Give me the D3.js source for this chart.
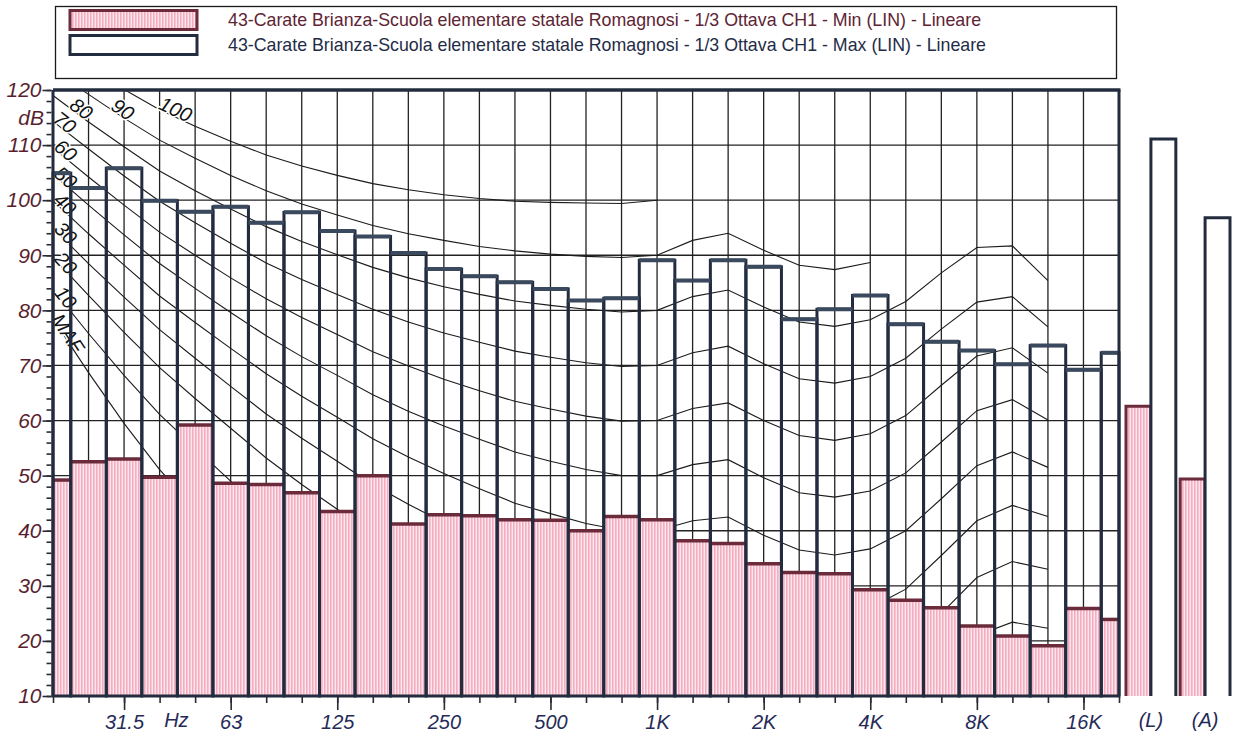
<!DOCTYPE html>
<html>
<head>
<meta charset="utf-8">
<script src="https://cdn.jsdelivr.net/npm/d3@7/dist/d3.min.js"></script>
<style>
  body { margin: 0; background: #fff; }
  svg { display: block; font-family: "Liberation Sans", Arial, sans-serif; }
</style>
</head>
<body>
<svg id="chart" width="1239" height="737"></svg>
<script>
// 1/3 octave bands, 20 Hz .. 20 kHz
const bands = ["20", "25", "31.5", "40", "50", "63", "80", "100", "125", "160", "200", "250", "315", "400", "500",
    "630", "800", "1K", "1.25K", "1.6K", "2K", "2.5K", "3.15K", "4K", "5K", "6.3K", "8K", "10K", "12.5K", "16K", "20K"];
const tickLabels = ["31.5", "63", "125", "250", "500", "1K", "2K", "4K", "8K", "16K"];

const maxValues = [104.9, 102.2, 105.8, 99.9, 97.9, 98.8, 95.9, 97.8, 94.4, 93.4, 90.4, 87.5, 86.2, 85.1, 83.9,
    81.8, 82.2, 89.1, 85.4, 89.1, 87.9, 78.4, 80.2, 82.7, 77.5, 74.3, 72.7, 70.2, 73.6, 69.2, 72.3];
const minValues = [49.2, 52.5, 53.0, 49.7, 59.2, 48.6, 48.4, 46.9, 43.5, 50.0, 41.2, 42.9, 42.7, 42.0, 41.9,
    40.0, 42.6, 42.0, 38.2, 37.7, 34.0, 32.4, 32.2, 29.3, 27.4, 26.0, 22.7, 20.9, 19.1, 25.9, 23.9];

const totalLabels = ["(L)", "(A)"];
const totalMax = [111.1, 96.8];
const totalMin = [62.6, 49.4];

const legendLabels = [
    "43-Carate Brianza-Scuola elementare statale Romagnosi - 1/3 Ottava CH1 - Min (LIN) - Lineare",
    "43-Carate Brianza-Scuola elementare statale Romagnosi - 1/3 Ottava CH1 - Max (LIN) - Lineare"
];

// equal loudness contours, dB per band starting at 20 Hz
const contourMAF = [78.5, 68.7, 59.5, 51.1, 44.0, 37.5, 31.5, 26.5, 22.1, 17.9, 14.4, 11.4, 8.6, 6.2, 4.4,
    3.0, 2.2, 2.4, 3.5, 1.7, -1.3, -4.2, -6.0, -5.4, -1.5, 6.0, 12.6, 13.9, 12.3];
const contour10 = [83.8, 75.8, 68.2, 61.1, 55.0, 49.0, 43.2, 38.1, 33.5, 28.8, 24.8, 21.3, 18.1, 15.1, 13.0,
    11.2, 10.0, 10.0, 11.3, 10.4, 7.3, 4.5, 3.0, 3.8, 7.5, 14.4, 21.0, 23.4, 22.3];
const contour20 = [89.6, 82.7, 76.0, 69.6, 64.0, 58.6, 53.2, 48.4, 43.9, 39.4, 35.5, 32.0, 28.7, 25.7, 23.4,
    21.5, 20.1, 20.0, 21.5, 21.4, 18.2, 15.4, 14.3, 15.1, 18.6, 25.0, 31.5, 34.4, 33.0];
const contour30 = [94.9, 88.5, 82.4, 76.5, 71.3, 66.2, 61.2, 56.8, 52.6, 48.4, 44.8, 41.5, 38.4, 35.5, 33.4,
    31.5, 30.1, 30.0, 31.7, 32.0, 28.8, 26.0, 25.1, 26.0, 29.4, 35.5, 41.8, 44.6, 42.6];
const contour40 = [99.9, 93.9, 88.2, 82.6, 77.8, 73.1, 68.5, 64.4, 60.6, 56.7, 53.4, 50.4, 47.6, 45.0, 43.1,
    41.3, 40.1, 40.0, 41.8, 42.5, 39.2, 36.5, 35.6, 36.7, 40.0, 45.8, 51.8, 54.3, 51.5];
const contour50 = [104.7, 99.1, 93.7, 88.5, 84.0, 79.6, 75.4, 71.6, 68.2, 64.7, 61.7, 59.0, 56.6, 54.3, 52.6,
    51.1, 50.0, 50.0, 52.0, 52.9, 49.6, 46.9, 46.1, 47.2, 50.5, 56.1, 61.8, 63.8, 60.1];
const contour60 = [109.5, 104.2, 99.1, 94.2, 90.0, 85.9, 82.1, 78.7, 75.6, 72.5, 69.9, 67.5, 65.4, 63.5, 62.1,
    60.8, 59.9, 60.0, 62.2, 63.2, 60.0, 57.3, 56.4, 57.6, 60.9, 66.4, 71.7, 73.2, 68.6];
const contour70 = [114.3, 109.3, 104.4, 99.8, 95.9, 92.2, 88.6, 85.6, 82.9, 80.2, 77.9, 75.9, 74.2, 72.6, 71.5,
    70.5, 69.8, 70.0, 72.3, 73.5, 70.3, 67.6, 66.8, 68.0, 71.3, 76.6, 81.5, 82.5, 77.0];
const contour80 = [119.0, 114.2, 109.7, 105.3, 101.7, 98.4, 95.2, 92.5, 90.1, 87.8, 85.9, 84.3, 82.9, 81.7, 80.9,
    80.2, 79.7, 80.0, 82.5, 83.7, 80.6, 77.9, 77.1, 78.3, 81.6, 86.8, 91.4, 91.7, 85.4];
const contour90 = [123.7, 119.2, 114.9, 110.9, 107.6, 104.5, 101.7, 99.3, 97.3, 95.4, 93.9, 92.7, 91.6, 90.8, 90.2,
    89.8, 89.6, 90.0, 92.7, 94.0, 90.9, 88.2, 87.4, 88.7];
const contour100 = [128.4, 124.2, 120.1, 116.4, 113.4, 110.7, 108.2, 106.2, 104.5, 103.0, 101.9, 101.0, 100.3, 99.8, 99.6,
    99.5, 99.4, 100.0];

// label text and where (in bands) it sits on its curve
const contours = [
    { label: "MAF", values: contourMAF, at: 0.42 },
    { label: "10", values: contour10, at: 0.36 },
    { label: "20", values: contour20, at: 0.36 },
    { label: "30", values: contour30, at: 0.36 },
    { label: "40", values: contour40, at: 0.34 },
    { label: "50", values: contour50, at: 0.36 },
    { label: "60", values: contour60, at: 0.36 },
    { label: "70", values: contour70, at: 0.33 },
    { label: "80", values: contour80, at: 0.8 },
    { label: "90", values: contour90, at: 1.97 },
    { label: "100", values: contour100, at: 3.45 }
];

const svg = d3.select("#chart");
const plotLeft = 53, plotRight = 1119, plotTop = 90, plotBottom = 696;

const x = d3.scalePoint().domain(bands).range([plotLeft, plotRight]);
const step = x.step();
const xi = i => plotLeft + i * step;
const y = d3.scaleLinear().domain([10, 120]).range([plotBottom, plotTop]);

const maxStroke = "#232c3f";
const maxTop = "#3a495d";
const minStroke = "#6b2b3b";

// stripes for the Min bars
const defs = svg.append("defs");
const pat = defs.append("pattern")
    .attr("id", "stripes")
    .attr("patternUnits", "userSpaceOnUse")
    .attr("width", 3).attr("height", 10);
pat.append("rect").attr("width", 3).attr("height", 10).attr("fill", "#fde7ee");
pat.append("rect").attr("width", 1.6).attr("height", 10).attr("fill", "#f4adc0");

defs.append("clipPath").attr("id", "plotClip")
    .append("rect")
    .attr("x", plotLeft).attr("y", plotTop)
    .attr("width", plotRight - plotLeft).attr("height", plotBottom - plotTop);

// legend
const legend = svg.append("g");
legend.append("rect")
    .attr("x", 55.5).attr("y", 6.5).attr("width", 1061).attr("height", 72)
    .attr("fill", "#fff").attr("stroke", "#1a1a1a").attr("stroke-width", 1.3);
legend.append("rect")
    .attr("x", 70).attr("y", 10.5).attr("width", 127).attr("height", 19)
    .attr("fill", "url(#stripes)").attr("stroke", minStroke).attr("stroke-width", 3);
legend.append("rect")
    .attr("x", 70).attr("y", 35.5).attr("width", 127).attr("height", 19)
    .attr("fill", "#fff").attr("stroke", maxStroke).attr("stroke-width", 3);
legend.selectAll(".legend-text")
    .data(legendLabels)
    .enter()
    .append("text")
    .attr("class", "legend-text")
    .attr("x", 228)
    .attr("y", (d, i) => 26 + i * 25)
    .attr("font-size", 17.8)
    .attr("fill", (d, i) => i === 0 ? "#5e2433" : "#1f2c47")
    .text(d => d);

// grid
const grid = svg.append("g");
grid.selectAll(".hgrid")
    .data(d3.range(20, 120, 10))
    .enter()
    .append("line")
    .attr("x1", plotLeft).attr("x2", plotRight)
    .attr("y1", d => y(d)).attr("y2", d => y(d))
    .attr("stroke", "#222").attr("stroke-width", 1.3);
grid.selectAll(".vgrid")
    .data(bands.slice(1, -1))
    .enter()
    .append("line")
    .attr("x1", d => x(d)).attr("x2", d => x(d))
    .attr("y1", plotTop).attr("y2", plotBottom)
    .attr("stroke", "#222").attr("stroke-width", 1.3);

// equal loudness contours
const lineGen = d3.line()
    .x((d, i) => xi(i))
    .y(d => y(d));

const curves = svg.append("g").attr("clip-path", "url(#plotClip)");
curves.selectAll(".contour")
    .data(contours)
    .enter()
    .append("path")
    .attr("class", "contour")
    .attr("d", d => lineGen(d.values))
    .attr("fill", "none")
    .attr("stroke", "#1b1b1b")
    .attr("stroke-width", 1.1);

curves.selectAll(".contour-label")
    .data(contours)
    .enter()
    .append("text")
    .attr("class", "contour-label")
    .attr("transform", d => {
        const i0 = Math.floor(d.at), t = d.at - i0;
        const v = d.values[i0] + (d.values[i0 + 1] - d.values[i0]) * t;
        const ang = Math.atan2(y(d.values[i0 + 1]) - y(d.values[i0]), step) * 180 / Math.PI;
        return `translate(${xi(d.at)},${y(v) - 8}) rotate(${ang})`;
    })
    .attr("text-anchor", "middle")
    .attr("dominant-baseline", "central")
    .attr("font-size", 20)
    .attr("font-style", "italic")
    .attr("fill", "#111")
    .attr("stroke", "#fff")
    .attr("stroke-width", 3)
    .attr("paint-order", "stroke")
    .text(d => d.label);

// bars
const barX0 = i => Math.max(plotLeft, xi(i) - step / 2);
const barX1 = i => Math.min(plotRight, xi(i) + step / 2);

const bars = svg.append("g");
bars.selectAll(".min-bar")
    .data(minValues)
    .enter()
    .append("rect")
    .attr("class", "min-bar")
    .attr("x", (d, i) => barX0(i))
    .attr("width", (d, i) => barX1(i) - barX0(i))
    .attr("y", d => y(d))
    .attr("height", d => plotBottom - y(d))
    .attr("fill", "url(#stripes)");
bars.selectAll(".min-top")
    .data(minValues)
    .enter()
    .append("line")
    .attr("x1", (d, i) => barX0(i)).attr("x2", (d, i) => barX1(i))
    .attr("y1", d => y(d)).attr("y2", d => y(d))
    .attr("stroke", minStroke).attr("stroke-width", 3.5);

bars.selectAll(".max-bar")
    .data(maxValues)
    .enter()
    .append("rect")
    .attr("class", "max-bar")
    .attr("x", (d, i) => barX0(i))
    .attr("width", (d, i) => barX1(i) - barX0(i))
    .attr("y", d => y(d))
    .attr("height", d => plotBottom - y(d))
    .attr("fill", "none")
    .attr("stroke", maxStroke).attr("stroke-width", 3);
bars.selectAll(".max-top")
    .data(maxValues)
    .enter()
    .append("line")
    .attr("x1", (d, i) => barX0(i)).attr("x2", (d, i) => barX1(i))
    .attr("y1", d => y(d)).attr("y2", d => y(d))
    .attr("stroke", maxTop).attr("stroke-width", 4);

// frame
const frame = svg.append("g").attr("stroke", maxStroke).attr("fill", "none");
frame.append("line").attr("x1", plotLeft).attr("x2", plotRight + 1.5).attr("y1", plotTop).attr("y2", plotTop).attr("stroke-width", 3.5);
frame.append("line").attr("x1", plotLeft).attr("x2", plotLeft).attr("y1", plotTop).attr("y2", plotBottom).attr("stroke-width", 3);
frame.append("line").attr("x1", plotRight).attr("x2", plotRight).attr("y1", plotTop).attr("y2", plotBottom).attr("stroke-width", 3);
frame.append("line").attr("x1", plotLeft).attr("x2", plotRight).attr("y1", plotBottom).attr("y2", plotBottom).attr("stroke-width", 2);

// totals (L) and (A)
const xt = d3.scaleBand().domain(totalLabels).range([1126, 1230]).paddingInner(0.08);
const half = xt.bandwidth() / 2;
const totals = svg.append("g");
totals.selectAll(".tmin")
    .data(totalMin)
    .enter()
    .append("path")
    .attr("d", (d, i) => {
        const x0 = xt(totalLabels[i]), x1 = x0 + half;
        return `M${x0},${plotBottom}V${y(d)}H${x1}V${plotBottom}`;
    })
    .attr("fill", "url(#stripes)")
    .attr("stroke", minStroke).attr("stroke-width", 3);
totals.selectAll(".tmax")
    .data(totalMax)
    .enter()
    .append("path")
    .attr("d", (d, i) => {
        const x0 = xt(totalLabels[i]) + half, x1 = x0 + half;
        return `M${x0},${plotBottom}V${y(d)}H${x1}V${plotBottom}`;
    })
    .attr("fill", "#fff")
    .attr("stroke", maxStroke).attr("stroke-width", 3);

// y axis
const axisColor = "#2a2a35";
const labelRed = "#5a1f2f";
const yMinor = svg.append("g")
    .attr("transform", `translate(${plotLeft - 1.5},0)`)
    .call(d3.axisLeft(y).tickValues(d3.range(10, 121, 2)).tickSize(5).tickFormat(""));
const yMajor = svg.append("g")
    .attr("transform", `translate(${plotLeft - 1.5},0)`)
    .call(d3.axisLeft(y).tickValues(d3.range(10, 121, 10)).tickSize(9).tickPadding(1));
[yMinor, yMajor].forEach(g => {
    g.select(".domain").remove();
    g.selectAll("line").attr("stroke", axisColor).attr("stroke-width", 1.6);
});
yMajor.selectAll("text")
    .attr("font-size", 21)
    .attr("font-style", "italic")
    .attr("font-family", "Liberation Sans, Arial, sans-serif")
    .attr("fill", labelRed);
svg.append("text")
    .attr("x", 44).attr("y", 125)
    .attr("text-anchor", "end")
    .attr("font-size", 21).attr("font-style", "italic")
    .attr("fill", labelRed)
    .text("dB");

// x axis
const labelBlue = "#262a58";
const xMinor = svg.append("g")
    .attr("transform", `translate(0,${plotBottom + 1})`)
    .call(d3.axisBottom(x).tickSize(6).tickFormat(""));
const xMajor = svg.append("g")
    .attr("transform", `translate(0,${plotBottom + 1})`)
    .call(d3.axisBottom(x).tickValues(tickLabels).tickSize(13).tickPadding(5));
[xMinor, xMajor].forEach(g => {
    g.select(".domain").remove();
    g.selectAll("line").attr("stroke", axisColor).attr("stroke-width", 1.6);
});
xMajor.selectAll("text")
    .attr("font-size", 20)
    .attr("font-style", "italic")
    .attr("font-family", "Liberation Sans, Arial, sans-serif")
    .attr("fill", labelBlue);

const xLabelY = plotBottom + 31;
svg.append("text")
    .attr("x", (x("40") + x("50")) / 2 - 1).attr("y", xLabelY)
    .attr("text-anchor", "middle")
    .attr("font-size", 20).attr("font-style", "italic")
    .attr("fill", labelBlue)
    .text("Hz");
svg.selectAll(".total-label")
    .data(totalLabels)
    .enter()
    .append("text")
    .attr("x", d => xt(d) + half)
    .attr("y", xLabelY)
    .attr("text-anchor", "middle")
    .attr("font-size", 20).attr("font-style", "italic")
    .attr("fill", labelBlue)
    .text(d => d);
</script>
</body>
</html>
